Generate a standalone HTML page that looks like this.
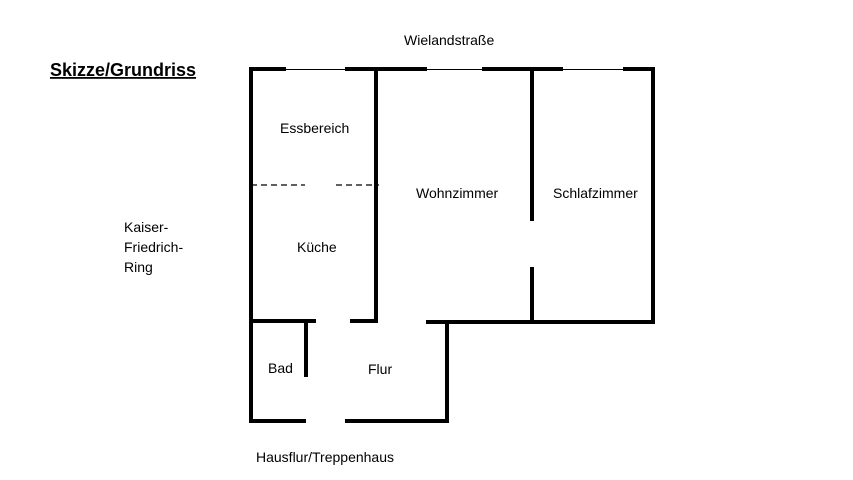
<!DOCTYPE html>
<html><head><meta charset="utf-8"><style>
html,body{margin:0;padding:0;background:#fff;}
svg{display:block;}
text{font-family:"Liberation Sans",sans-serif;font-size:14px;fill:#000;}
</style></head><body>
<svg width="853" height="480" viewBox="0 0 853 480" xmlns="http://www.w3.org/2000/svg">
<g stroke="#000" stroke-linecap="square" fill="none">
<line x1="250" y1="69.5" x2="653" y2="69.5" stroke-width="1" stroke-linecap="butt"/>
<g stroke-width="4">
<line x1="251" y1="69" x2="284" y2="69"/>
<line x1="347" y1="69" x2="425" y2="69"/>
<line x1="484" y1="69" x2="561" y2="69"/>
<line x1="625" y1="69" x2="652" y2="69"/>
<line x1="251" y1="69" x2="251" y2="421"/>
<line x1="376" y1="69" x2="376" y2="320"/>
<line x1="532" y1="69" x2="532" y2="219"/>
<line x1="532" y1="269" x2="532" y2="321"/>
<line x1="653" y1="69" x2="653" y2="321"/>
<line x1="306" y1="321" x2="306" y2="375"/>
<line x1="447" y1="322" x2="447" y2="421"/>
<line x1="251" y1="321" x2="314" y2="321"/>
<line x1="352" y1="321" x2="376" y2="321"/>
<line x1="428" y1="322" x2="653" y2="322"/>
<line x1="251" y1="421" x2="304" y2="421"/>
<line x1="347" y1="421" x2="447" y2="421"/>
</g>
<line x1="251" y1="185" x2="305" y2="185" stroke-width="1.3" stroke-dasharray="6,4" stroke-linecap="butt"/>
<line x1="336" y1="185" x2="379" y2="185" stroke-width="1.3" stroke-dasharray="6,4" stroke-linecap="butt"/>
</g>
<text x="50" y="76" style="font-size:18px;font-weight:bold;text-decoration:underline">Skizze/Grundriss</text>
<text x="404" y="45">Wielandstraße</text>
<text x="280" y="133">Essbereich</text>
<text x="416" y="198">Wohnzimmer</text>
<text x="553" y="198">Schlafzimmer</text>
<text x="297" y="252">Küche</text>
<text x="124" y="232">Kaiser-</text>
<text x="124" y="252">Friedrich-</text>
<text x="124" y="272">Ring</text>
<text x="268" y="373">Bad</text>
<text x="368" y="374">Flur</text>
<text x="256" y="462">Hausflur/Treppenhaus</text>
</svg>
</body></html>
